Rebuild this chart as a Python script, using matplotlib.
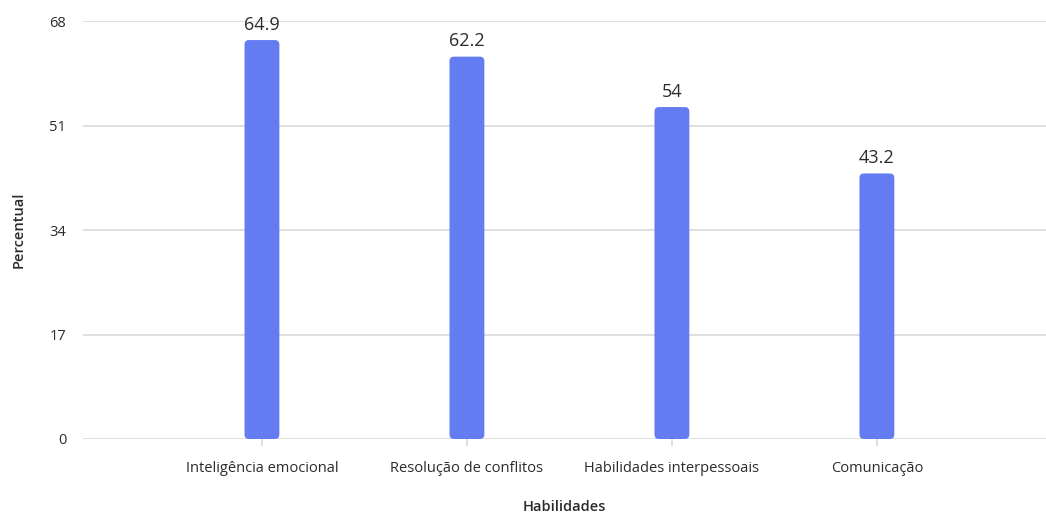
import matplotlib
matplotlib.use("Agg")
import matplotlib.pyplot as plt
from matplotlib.patches import FancyBboxPatch

plt.rcParams['font.family'] = ['Open Sans', 'DejaVu Sans']

categories = ["Inteligência emocional", "Resolução de conflitos",
              "Habilidades interpessoais", "Comunicação"]
values = [64.9, 62.2, 54, 43.2]
value_labels = ["64.9", "62.2", "54", "43.2"]
y_ticks = [0, 17, 34, 51, 68]

bar_color = "#637CF1"
text_color = "#2b2b2b"
grid_color = "#d9d9d9"

fig = plt.figure(figsize=(10.46, 5.12), dpi=100)
ax = fig.add_axes([83 / 1046, (512 - 439) / 512, 1 - 83 / 1046, (439 - 21) / 512])

x = list(range(len(categories)))
ax.set_xlim(-0.873, 3.825)
ax.set_ylim(0, 68)

bars = ax.bar(x, values, width=0.17, color=bar_color, zorder=3)

# swap the plain rectangles for rounded ones
fig.canvas.draw()
p0 = ax.transData.transform((0, 0))
p1 = ax.transData.transform((1, 1))
px_x = p1[0] - p0[0]
px_y = p1[1] - p0[1]
radius_px = 4.5
r = radius_px / px_x
aspect = px_x / px_y
for b in bars:
    bx, by = b.get_x(), b.get_y()
    bw, bh = b.get_width(), b.get_height()
    b.set_visible(False)
    patch = FancyBboxPatch((bx, by), bw, bh,
                           boxstyle=f"round,pad=0,rounding_size={r}",
                           mutation_aspect=aspect,
                           facecolor=bar_color, edgecolor="none", zorder=3)
    ax.add_patch(patch)

for xi, v, lab in zip(x, values, value_labels):
    ax.annotate(lab, (xi, v), xytext=(0, 4.5), textcoords="offset points",
                ha="center", va="bottom", fontsize=13, color=text_color)

ax.set_yticks(y_ticks)
ax.set_yticklabels([str(t) for t in y_ticks], fontsize=10.5, color=text_color)
ax.set_xticks(x)
ax.set_xticklabels(categories, fontsize=10.5, color=text_color)

ax.yaxis.grid(True, color=grid_color, linewidth=1.2, zorder=0)
ax.set_axisbelow(True)
for s in ax.spines.values():
    s.set_visible(False)
ax.tick_params(axis="y", length=0, pad=12)
ax.tick_params(axis="x", length=5, color=grid_color, width=1.2, pad=11)

ax.set_xlabel("Habilidades", fontsize=10.5, color=text_color, fontweight="semibold", labelpad=17)
ax.set_ylabel("Percentual", fontsize=10.5, color=text_color, fontweight="semibold", labelpad=17)

fig.savefig("out.png", dpi=100)
